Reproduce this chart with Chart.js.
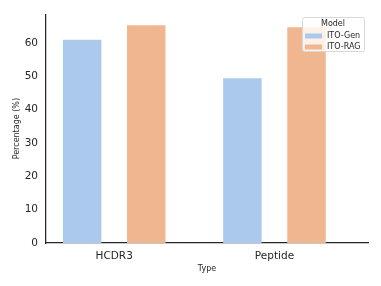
<!DOCTYPE html>
<html>
<head>
<meta charset="utf-8">
<script src="https://cdn.jsdelivr.net/npm/chart.js@4"></script>
<style>
  html, body { margin: 0; padding: 0; background: #fff; }
  #wrap { width: 381px; height: 286px; }
</style>
</head>
<body>
<div id="wrap"><canvas id="chart"></canvas></div>
<script>
    const types = ['HCDR3', 'Peptide'];
    const models = ['ITO-Gen', 'ITO-RAG'];
    const itoGen = [61.0, 49.4];
    const itoRag = [65.3, 64.7];
    const colors = ['rgb(171,201,236)', 'rgb(240,182,144)'];

    const font = 'DejaVu Sans';

    // legende dessinee dans la zone du graphique (comme seaborn)
    const legendBox = {
        id: 'legendBox',
        afterDraw(chart) {
            const ctx = chart.ctx;
            const x = 302, y = 17, w = 62, h = 34;
            ctx.save();
            ctx.fillStyle = 'rgba(255,255,255,0.8)';
            ctx.strokeStyle = '#d8d8d8';
            ctx.lineWidth = 1;
            ctx.beginPath();
            ctx.roundRect(x + 0.5, y + 0.5, w, h, 2);
            ctx.fill();
            ctx.stroke();
            ctx.fillStyle = '#262626';
            ctx.font = '8px "' + font + '"';
            ctx.textAlign = 'center';
            ctx.textBaseline = 'middle';
            ctx.fillText('Model', x + w / 2, y + 7);
            ctx.textAlign = 'left';
            models.forEach((m, i) => {
                const cy = y + 19 + i * 11;
                ctx.fillStyle = colors[i];
                ctx.fillRect(x + 3, cy - 2.5, 17, 5);
                ctx.fillStyle = '#262626';
                ctx.fillText(m, x + 25, cy);
            });
            ctx.restore();
        }
    };

    new Chart(document.getElementById('chart'), {
        type: 'bar',
        data: {
            labels: types,
            datasets: [
                { label: models[0], data: itoGen, backgroundColor: colors[0] },
                { label: models[1], data: itoRag, backgroundColor: colors[1] }
            ]
        },
        options: {
            responsive: true,
            maintainAspectRatio: false,
            animation: false,
            layout: { padding: { top: 12, right: 13, left: 0, bottom: 0 } },
            datasets: { bar: { categoryPercentage: 0.8, barPercentage: 0.6 } },
            plugins: { legend: { display: false }, tooltip: { enabled: false } },
            scales: {
                x: {
                    grid: { display: false, drawTicks: false, tickLength: 0 },
                    border: { display: true, color: '#262626', width: 1.25 },
                    ticks: { color: '#262626', padding: 7, font: { family: font, size: 10.5 } },
                    title: { display: true, text: 'Type', color: '#262626',
                             font: { family: font, size: 8 }, padding: { top: 0, bottom: 12 } },
                    // plage de l'axe un peu plus large a droite, comme l'original
                    afterBuildTicks(scale) {
                        scale._startValue = -0.4255;
                        scale._valueRange = 2.009;
                    },
                    afterFit(scale) { scale.height = 43; }
                },
                y: {
                    min: 0,
                    max: 68.6,
                    grid: { display: false, drawTicks: false, tickLength: 0 },
                    border: { display: true, color: '#262626', width: 1.25 },
                    ticks: { stepSize: 10, color: '#262626', padding: 8, font: { family: font, size: 10.5 } },
                    afterBuildTicks(scale) {
                        scale.ticks = scale.ticks.filter(t => t.value % 10 === 0);
                    },
                    title: { display: true, text: 'Percentage (%)', color: '#262626',
                             font: { family: font, size: 8 }, padding: { top: 12, bottom: 0 } },
                    afterFit(scale) { scale.width = 46; }
                }
            }
        },
        plugins: [legendBox]
    });
</script>
</body>
</html>
